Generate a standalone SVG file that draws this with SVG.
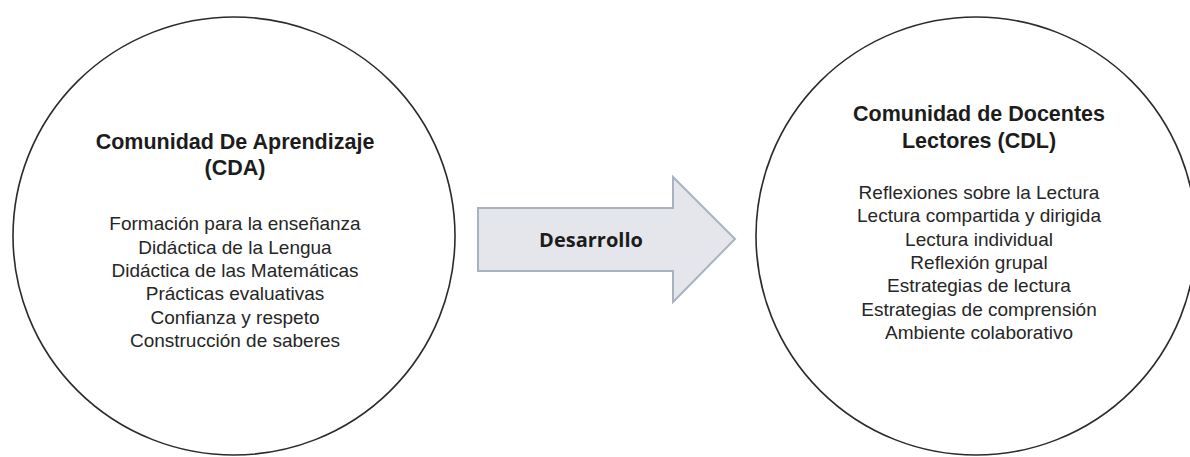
<svg xmlns="http://www.w3.org/2000/svg" width="1190" height="457" viewBox="0 0 1190 457">
  <style>
    .circle { fill: #ffffff; stroke: #2b2b2b; stroke-width: 1.6; }
    .title { font-family: "Liberation Sans", Arial, sans-serif; font-weight: bold; font-size: 21.5px; fill: #1c1c1c; text-anchor: middle; }
    .item { font-family: "Liberation Sans", Arial, sans-serif; font-size: 19px; fill: #262626; text-anchor: middle; }
    .arrow { fill: #e4e6eb; stroke: #a9b3bf; stroke-width: 2; }
    .label { font-family: "Open Sans", sans-serif; font-weight: bold; font-size: 20px; fill: #1c1c1c; text-anchor: middle; }
  </style>
  <rect width="1190" height="457" fill="#ffffff"/>
  <g id="connectors">
    <g id="arrow-desarrollo">
      <polygon class="arrow" points="478,208 673,208 673,177 735,239 673,302 673,271 478,271"/>
      <text class="label" x="591" y="247">Desarrollo</text>
    </g>
  </g>
  <g id="node-cda">
    <ellipse class="circle" cx="234" cy="236" rx="221" ry="219"/>
    <text class="title" x="235" y="149">Comunidad De Aprendizaje</text>
    <text class="title" x="235" y="175">(CDA)</text>
    <text class="item" x="235" y="230">Formación para la enseñanza</text>
    <text class="item" x="235" y="253.5">Didáctica de la Lengua</text>
    <text class="item" x="235" y="277">Didáctica de las Matemáticas</text>
    <text class="item" x="235" y="300">Prácticas evaluativas</text>
    <text class="item" x="235" y="324">Confianza y respeto</text>
    <text class="item" x="235" y="347">Construcción de saberes</text>
  </g>
  <g id="node-cdl">
    <ellipse class="circle" cx="976" cy="236" rx="220" ry="219"/>
    <text class="title" x="979" y="120.5">Comunidad de Docentes</text>
    <text class="title" x="979" y="147.5">Lectores (CDL)</text>
    <text class="item" x="979" y="199">Reflexiones sobre la Lectura</text>
    <text class="item" x="979" y="222">Lectura compartida y dirigida</text>
    <text class="item" x="979" y="245.5">Lectura individual</text>
    <text class="item" x="979" y="269">Reflexión grupal</text>
    <text class="item" x="979" y="292">Estrategias de lectura</text>
    <text class="item" x="979" y="315.5">Estrategias de comprensión</text>
    <text class="item" x="979" y="339">Ambiente colaborativo</text>
  </g>
</svg>
